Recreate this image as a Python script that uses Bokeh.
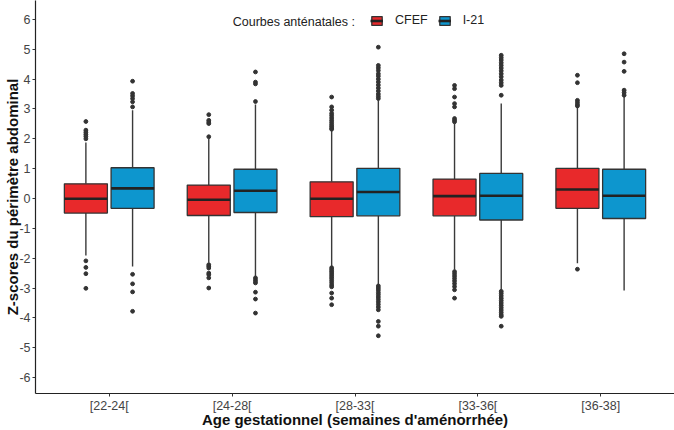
from bokeh.plotting import figure
from bokeh.models import (ColumnDataSource, Range1d, FixedTicker, Legend, LegendItem, Label)
from bokeh.embed import file_html
from bokeh.resources import INLINE

categories = ["[22-24[", "[24-28[", "[28-33[", "[33-36[", "[36-38]"]
series = ["CFEF", "I-21"]
colors = ["#E8292B", "#0D96CE"]

# CFEF box statistics (Z-scores)
cfef_lo = [-1.91, -2.15, -2.28, -2.39, -2.17]
cfef_q1 = [-0.49, -0.57, -0.61, -0.58, -0.33]
cfef_med = [-0.01, -0.04, -0.01, 0.08, 0.30]
cfef_q3 = [0.49, 0.45, 0.56, 0.65, 1.01]
cfef_hi = [1.88, 2.01, 2.29, 2.51, 3.07]

# I-21 box statistics
i21_lo = [-2.28, -2.61, -2.89, -3.06, -3.08]
i21_q1 = [-0.33, -0.47, -0.58, -0.72, -0.67]
i21_med = [0.34, 0.26, 0.22, 0.09, 0.09]
i21_q3 = [1.03, 0.98, 1.01, 0.84, 0.98]
i21_hi = [2.96, 3.15, 3.29, 3.18, 3.40]

# outliers, one list per age class
cfef_out = [
    [2.58, 2.29, 2.22, 2.15, 2.08, 2.00, -2.09, -2.31, -2.52, -3.01],
    [2.81, 2.62, 2.56, 2.51, 2.07, -2.22, -2.27, -2.33, -2.50, -2.55, -2.66, -3.00],
    [3.40, 3.07, 2.96, 2.85, 2.78, 2.70, 2.62, 2.55, 2.48, 2.42, 2.36, 2.32,
     -2.32, -2.38, -2.44, -2.50, -2.56, -2.62, -2.68, -2.75, -2.82, -2.90, -2.96, -3.17, -3.34, -3.56],
    [3.79, 3.68, 3.40, 3.18, 3.07, 2.68, 2.62, 2.57,
     -2.45, -2.52, -2.60, -2.68, -2.76, -2.85, -2.95, -3.06, -3.34],
    [4.13, 3.88, 3.29, 3.22, 3.15, 3.10, -2.37],
]
i21_out = [
    [3.93, 3.52, 3.44, 3.35, 3.24, 3.07, -2.54, -2.86, -3.13, -3.78],
    [4.24, 3.90, 3.84, 3.25, -2.66, -2.72, -2.78, -2.83, -3.14, -3.37, -3.84],
    [5.07, 4.46, 4.38, 4.29, 4.18, 4.10, 4.00, 3.90, 3.80, 3.70, 3.60, 3.50, 3.42, 3.35,
     -2.93, -3.00, -3.07, -3.15, -3.22, -3.30, -3.38, -3.46, -3.55, -3.64, -3.73, -4.12, -4.28, -4.60],
    [4.80, 4.72, 4.64, 4.55, 4.46, 4.37, 4.28, 4.18, 4.08, 3.97, 3.88, 3.79, 3.46,
     -3.11, -3.18, -3.26, -3.34, -3.42, -3.50, -3.58, -3.66, -3.74, -3.82, -3.90, -3.95, -4.28],
    [4.85, 4.57, 4.26, 3.63, 3.55, 3.46],
]

y_ticks = list(range(-6, 7))
x_title = "Age gestationnel (semaines d'aménorrhée)"
y_title = "Z-scores du périmètre abdominal"
legend_title = "Courbes anténatales :"

DODGE = 0.19
BOX_W = 0.35
FONT = "Liberation Sans"

p = figure(width=674, height=430, output_backend="svg", toolbar_location=None,
           x_range=Range1d(0.4, 5.6), y_range=Range1d(-6.535, 6.635),
           min_border_left=35, min_border_right=0, min_border_top=0, min_border_bottom=36)
p.outline_line_color = None
p.xgrid.visible = False
p.ygrid.visible = False
p.background_fill_color = "white"

stats = [
    (cfef_lo, cfef_q1, cfef_med, cfef_q3, cfef_hi, cfef_out, -DODGE, colors[0]),
    (i21_lo, i21_q1, i21_med, i21_q3, i21_hi, i21_out, DODGE, colors[1]),
]
legend_renderers = []
for lo, q1, med, q3, hi, outs, off, col in stats:
    xs = [i + 1 + off for i in range(len(categories))]
    src = ColumnDataSource(dict(x=xs, x0=[x - BOX_W / 2 for x in xs], x1=[x + BOX_W / 2 for x in xs],
                                lo=lo, q1=q1, med=med, q3=q3, hi=hi))
    p.segment(x0="x", y0="q3", x1="x", y1="hi", source=src, line_color="#3a3a3a", line_width=1.4)
    p.segment(x0="x", y0="q1", x1="x", y1="lo", source=src, line_color="#3a3a3a", line_width=1.4)
    ox, oy = [], []
    for i, vals in enumerate(outs):
        ox += [xs[i]] * len(vals)
        oy += vals
    p.scatter(ox, oy, size=3.8, color="#333333", marker="circle")
    box = p.vbar(x="x", width=BOX_W, bottom="q1", top="q3", source=src,
                 fill_color=col, line_color="#333333", line_width=1.3)
    medr = p.segment(x0="x0", y0="med", x1="x1", y1="med", source=src, line_color="#222222", line_width=2.6)
    legend_renderers.append([box, medr])

# axes
p.xaxis.ticker = FixedTicker(ticks=[1, 2, 3, 4, 5])
p.xaxis.major_label_overrides = {i + 1: c for i, c in enumerate(categories)}
p.yaxis.ticker = FixedTicker(ticks=y_ticks)
p.yaxis.major_label_overrides = {t: str(t) for t in y_ticks}
p.xaxis.minor_tick_line_color = None
p.yaxis.minor_tick_line_color = None
for ax in (p.xaxis, p.yaxis):
    ax.axis_line_color = "#222222"
    ax.axis_line_width = 1.2
    ax.major_tick_line_color = "#333333"
    ax.major_tick_in = 0
    ax.major_tick_out = 3
    ax.major_label_text_font = FONT
    ax.major_label_text_color = "#444444"
    ax.major_label_text_font_size = "12.5px"
    ax.axis_label_text_font = FONT
    ax.axis_label_text_font_style = "bold"
    ax.axis_label_text_font_size = "15px"
    ax.axis_label_text_color = "#111111"
    ax.axis_label_standoff = -5
p.xaxis.major_label_standoff = 2
p.yaxis.major_label_standoff = 2
p.xaxis.axis_label = x_title
p.yaxis.axis_label = y_title

# legend
p.add_layout(Label(x=3.0, y=5.93, text=legend_title, text_align="right", text_baseline="middle",
                   text_font=FONT, text_font_size="12.5px", text_color="#222222"))
legend = Legend(items=[LegendItem(label=series[0], renderers=legend_renderers[0]),
                       LegendItem(label=series[1], renderers=legend_renderers[1])],
                orientation="horizontal", location=(335, 366),
                glyph_width=13, glyph_height=11, label_height=11, label_standoff=12, spacing=10,
                padding=0, margin=0, border_line_color=None, background_fill_alpha=0,
                label_text_font=FONT, label_text_font_size="12.5px", label_text_color="#222222")
p.add_layout(legend)

open("out.html", "w").write(file_html(p, INLINE))
